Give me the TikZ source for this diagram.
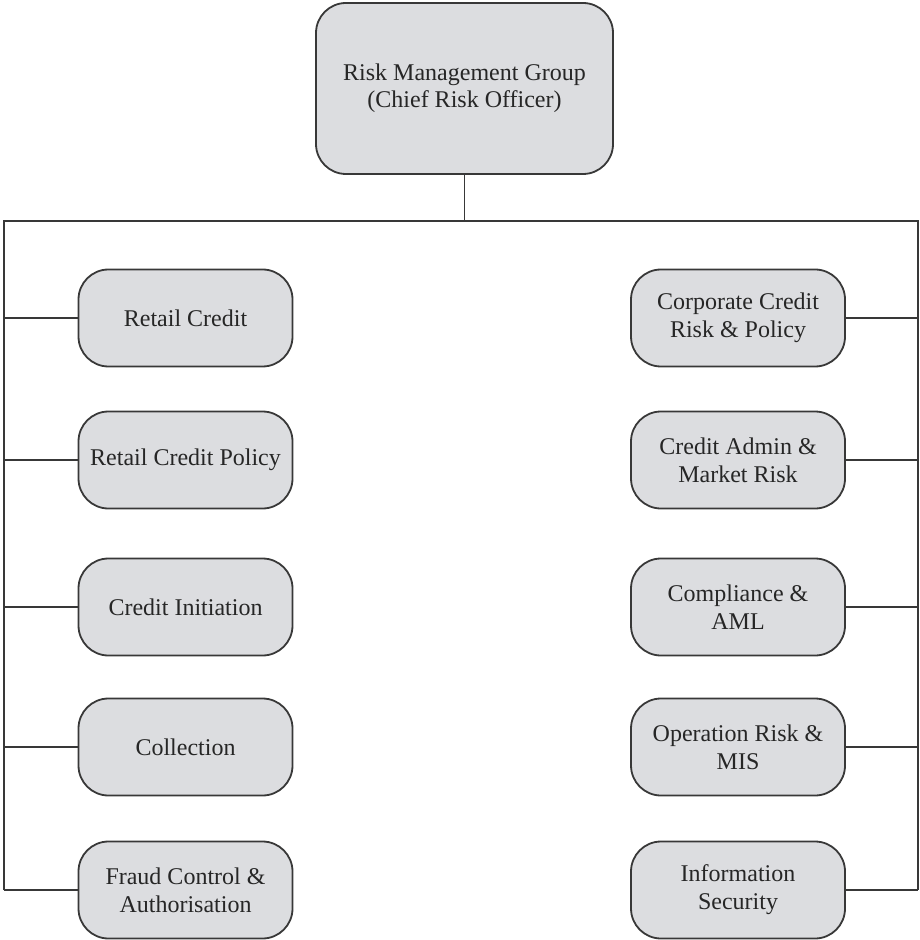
\documentclass[tikz,border=0pt]{standalone}
\usepackage{fontspec}
\setmainfont{Liberation Serif}
\definecolor{boxgray}{HTML}{DCDDE0}
\definecolor{linegray}{HTML}{383838}
\tikzset{
  unit/.style={draw=linegray, line width=0.9pt, fill=boxgray, rounded corners=15pt,
    minimum width=107pt, minimum height=48.5pt, inner sep=0pt, align=center,
    text=black!85, font=\fontsize{12}{14}\selectfont},
  link/.style={draw=linegray, line width=0.9pt}
}
\begin{document}
\begin{tikzpicture}[x=0.5pt,y=-0.5pt]
    \useasboundingbox (0,0) rectangle (919,940);
    \node[unit, minimum width=148.5pt, minimum height=85.5pt,
      font=\fontsize{12}{13.5}\selectfont] (rmg) at (464.5,88.5)
      {Risk Management Group\\(Chief Risk Officer)};

    \node[unit] (retail)  at (185.5,318) {Retail Credit};
    \node[unit] (policy)  at (185.5,460) {Retail Credit Policy};
    \node[unit] (init)    at (185.5,607) {Credit Initiation};
    \node[unit] (collect) at (185.5,747) {Collection};
    \node[unit] (fraud)   at (185.5,890) {Fraud Control \&\\Authorisation};

    \node[unit] (corp)    at (738,318) {Corporate Credit\\Risk \& Policy};
    \node[unit] (admin)   at (738,460) {Credit Admin \&\\Market Risk};
    \node[unit] (aml)     at (738,607) {Compliance \&\\AML};
    \node[unit] (oprisk)  at (738,747) {Operation Risk \&\\MIS};
    \node[unit] (infosec) at (738,890) {Information\\Security};

    \coordinate (busL) at (4,221);
    \coordinate (busR) at (918,221);

    \draw[link] (rmg.south) -- (rmg.south |- busL);
    \draw[link] (busL |- fraud.west) -- (busL) -- (busR) -- (busR |- infosec.east);
    \foreach \n in {retail, policy, init, collect, fraud}
      \draw[link] (busL |- \n.west) -- (\n.west);
    \foreach \n in {corp, admin, aml, oprisk, infosec}
      \draw[link] (\n.east) -- (busR |- \n.east);
\end{tikzpicture}
\end{document}
